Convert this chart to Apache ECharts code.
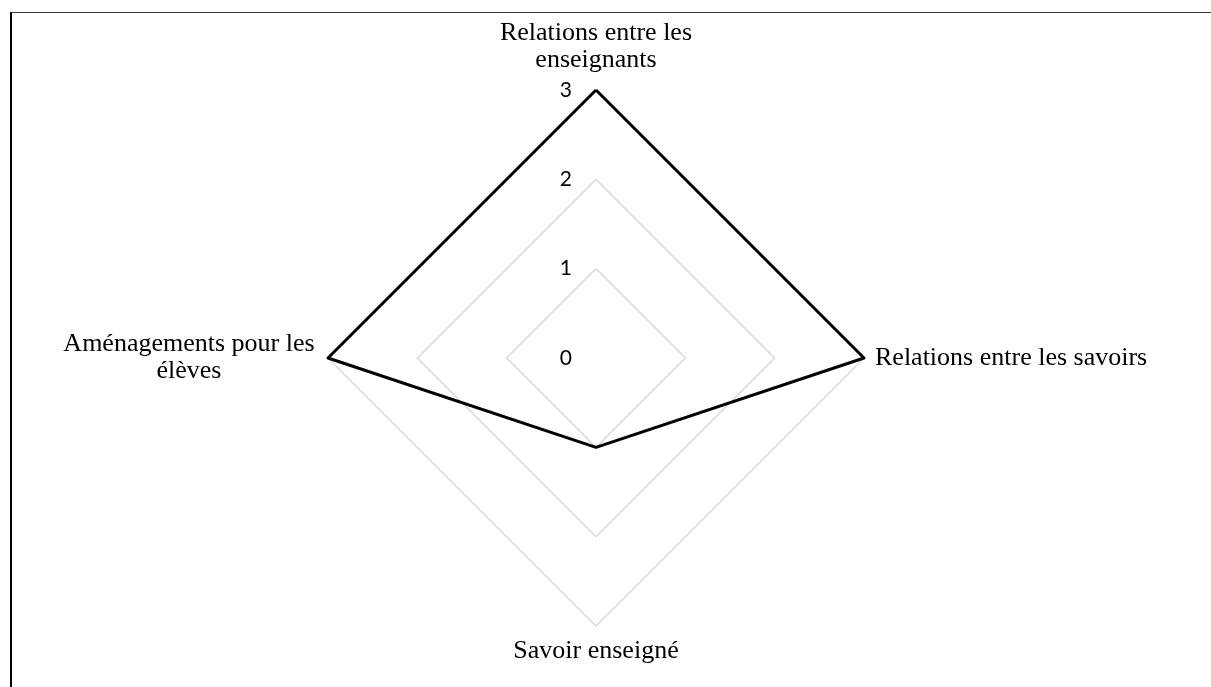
<!DOCTYPE html>
<html>
<head>
<meta charset="utf-8">
<script src="https://cdn.jsdelivr.net/npm/echarts@6/dist/echarts.min.js"></script>
<style>
  html, body { margin: 0; padding: 0; background: #fff; }
  #chart { position: absolute; left: 0; top: 0; width: 1211px; height: 687px; }
  /* cadre du document d'origine (haut + gauche) */
  #cadre {
    position: absolute; left: 10px; top: 12px; width: 1201px; height: 675px;
    border-top: 1.5px solid #3a3a3a; border-left: 2px solid #000;
    box-sizing: border-box; pointer-events: none;
  }
</style>
</head>
<body>
<div id="chart"></div>
<div id="cadre"></div>
<script>
// axes du radar (ordre anti-horaire à partir du haut, comme ECharts)
const axes = [
  'Relations entre les\nenseignants',
  'Aménagements pour les\nélèves',
  'Savoir enseigné',
  'Relations entre les savoirs'
];
const valeurs = [3, 3, 1, 3];
const maxValeur = 3;
// écart entre le sommet et le nom de chaque axe
const ecarts = [16, 8, 12, 11];

const chart = echarts.init(document.getElementById('chart'), null, { renderer: 'canvas' });

const indicator = axes.map((nom, i) => {
  const ind = { name: nom, min: 0, max: maxValeur, nameGap: ecarts[i] };
  // seules les graduations de l'axe du haut sont affichées
  if (i === 0) ind.axisLabel = { show: true };
  return ind;
});

const option = {
  animation: false,
  radar: {
    center: [596, 358],
    radius: 268,
    startAngle: 90,
    shape: 'polygon',
    splitNumber: 3,
    indicator: indicator,
    axisName: {
      color: '#000',
      fontFamily: 'Liberation Serif',
      fontSize: 26,
      lineHeight: 27,
      formatter: function (nom) {
        if (nom.indexOf('Aménagements') === 0) {
          return nom.split('\n').map((l) => '{c|' + l + '}').join('\n');
        }
        return nom;
      },
      rich: {
        c: {
          width: 262,
          align: 'center',
          fontFamily: 'Liberation Serif',
          fontSize: 26,
          lineHeight: 27,
          color: '#000'
        }
      }
    },
    nameGap: 11,
    axisLine: { show: false },
    axisTick: { show: false },
    axisLabel: {
      show: false,
      color: '#000',
      fontFamily: 'Lato',
      fontSize: 21,
      margin: 24
    },
    splitLine: { lineStyle: { color: '#d9d9d9', width: 1.5 } },
    splitArea: { show: false }
  },
  series: [
    {
      type: 'radar',
      symbol: 'none',
      lineStyle: { color: '#000', width: 3 },
      data: [{ value: valeurs, name: 'Série 1' }]
    }
  ]
};

chart.setOption(option);
</script>
</body>
</html>
